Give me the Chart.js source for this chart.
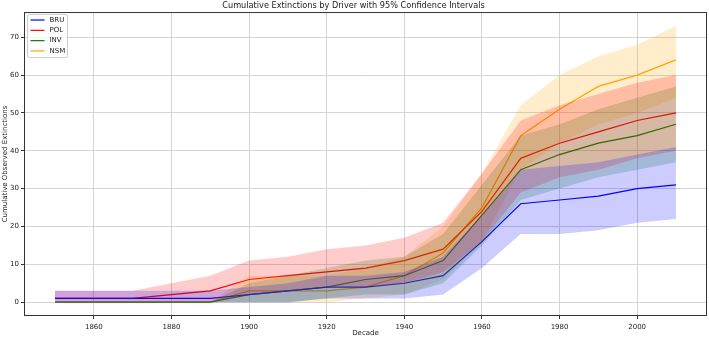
<!DOCTYPE html>
<html>
<head>
<meta charset="utf-8">
<script src="https://cdn.jsdelivr.net/npm/chart.js@4"></script>
<style>
  html, body { margin: 0; padding: 0; background: #fff; }
  canvas { display: block; }
</style>
</head>
<body>
<canvas id="chart" width="709" height="337"></canvas>
<script>
// decades and tick labels
const decades = [1850, 1860, 1870, 1880, 1890, 1900, 1910, 1920, 1930, 1940, 1950, 1960, 1970, 1980, 1990, 2000, 2010];
const xTicks = [1860, 1880, 1900, 1920, 1940, 1960, 1980, 2000];
const yTicks = [0, 10, 20, 30, 40, 50, 60, 70];

// cumulative extinctions per driver, with 95% CI bounds
const bru = [1, 1, 1, 1, 1, 2, 3, 4, 4, 5, 7, 16, 26, 27, 28, 30, 31];
const bruLow = [0, 0, 0, 0, 0, 0, 0, 1, 1, 1, 2, 9, 18, 18, 19, 21, 22];
const bruHigh = [3, 3, 3, 3, 3, 4, 5, 7, 7, 8, 12, 23, 35, 36, 37, 39, 41];

const pol = [1, 1, 1, 2, 3, 6, 7, 8, 9, 11, 14, 24, 38, 42, 45, 48, 50];
const polLow = [0, 0, 0, 0, 0, 2, 3, 4, 4, 5, 8, 16, 29, 33, 35, 38, 40];
const polHigh = [3, 3, 3, 5, 7, 11, 12, 14, 15, 17, 21, 34, 48, 52, 55, 58, 60];

const inv = [0, 0, 0, 0, 0, 2, 3, 4, 6, 7, 11, 23, 35, 39, 42, 44, 47];
const invLow = [0, 0, 0, 0, 0, 0, 0, 1, 2, 2, 5, 15, 27, 30, 33, 35, 37];
const invHigh = [0, 0, 0, 0, 0, 5, 7, 9, 11, 12, 18, 31, 44, 47, 51, 54, 57];

const nsm = [0, 0, 0, 0, 0, 3, 3, 3, 4, 7, 13, 25, 44, 51, 57, 60, 64];
const nsmLow = [0, 0, 0, 0, 0, 0, 0, 0, 1, 2, 6, 16, 35, 42, 47, 50, 54];
const nsmHigh = [0, 0, 0, 0, 0, 7, 7, 7, 9, 12, 20, 34, 52, 60, 65, 68, 73];

const drivers = ["BRU", "POL", "INV", "NSM"];
const lineColors = ["#0000ff", "#ff0000", "#008000", "#ffa500"];
const bandColors = ["rgba(0,0,255,0.2)", "rgba(255,0,0,0.2)", "rgba(0,128,0,0.2)", "rgba(255,165,0,0.2)"];
const series = [bru, pol, inv, nsm];
const lows = [bruLow, polLow, invLow, nsmLow];
const highs = [bruHigh, polHigh, invHigh, nsmHigh];

const pts = (arr) => arr.map((v, i) => ({ x: decades[i], y: v }));
const font = "'DejaVu Sans', sans-serif";

const datasets = [];
drivers.forEach((name, i) => {
  const lowIndex = datasets.length;
  datasets.push({
    label: name + " low",
    data: pts(lows[i]),
    borderWidth: 0,
    pointRadius: 0,
    fill: false,
  });
  datasets.push({
    label: name + " high",
    data: pts(highs[i]),
    borderWidth: 0,
    pointRadius: 0,
    backgroundColor: bandColors[i],
    fill: lowIndex,
  });
});
drivers.forEach((name, i) => {
  datasets.push({
    label: name,
    data: pts(series[i]),
    borderColor: lineColors[i],
    borderWidth: 1.2,
    pointRadius: 0,
    fill: false,
    tension: 0,
  });
});

// axes box and the legend inside the plot, like matplotlib
const frame = {
  id: "frame",
  afterDraw(chart) {
    const { ctx, chartArea: a } = chart;
    ctx.save();
    ctx.strokeStyle = "#333";
    ctx.lineWidth = 1;
    ctx.strokeRect(a.left + 0.5, a.top + 0.5, a.right - a.left - 1, a.bottom - a.top - 1);

    const bx = a.left + 3.5, by = a.top + 2.5, bw = 40, bh = 43;
    ctx.fillStyle = "rgba(255,255,255,0.8)";
    ctx.strokeStyle = "#cccccc";
    ctx.beginPath();
    ctx.roundRect(bx, by, bw, bh, 2);
    ctx.fill();
    ctx.stroke();

    ctx.font = "7px " + font;
    ctx.textBaseline = "middle";
    ctx.textAlign = "left";
    drivers.forEach((name, i) => {
      const y = by + 5.5 + i * 10.3;
      ctx.strokeStyle = lineColors[i];
      ctx.lineWidth = 1.2;
      ctx.beginPath();
      ctx.moveTo(bx + 3, y);
      ctx.lineTo(bx + 17, y);
      ctx.stroke();
      ctx.fillStyle = "#222";
      ctx.fillText(name, bx + 22, y);
    });
    ctx.restore();
  },
};

new Chart(document.getElementById("chart").getContext("2d"), {
  type: "line",
  data: { datasets },
  plugins: [frame],
  options: {
    responsive: false,
    animation: false,
    devicePixelRatio: 1,
    layout: { padding: { left: 0, right: 2, top: 0, bottom: 0 } },
    plugins: {
      legend: { display: false },
      tooltip: { enabled: false },
      title: {
        display: true,
        text: "Cumulative Extinctions by Driver with 95% Confidence Intervals",
        color: "#222",
        font: { family: font, size: 8.2, weight: "normal" },
        padding: { top: 1, bottom: 1.2 },
      },
    },
    scales: {
      x: {
        type: "linear",
        min: 1842,
        max: 2018,
        afterBuildTicks: (s) => { s.ticks = xTicks.map((v) => ({ value: v })); },
        afterFit: (s) => { s.height = 21; },
        ticks: { color: "#222", font: { family: font, size: 7 }, padding: 4, maxRotation: 0, callback: (v) => String(v) },
        grid: { color: "#d4d4d4", tickColor: "#333", tickLength: 3 },
        border: { display: false },
        title: { display: true, text: "Decade", color: "#222", font: { family: font, size: 7 }, padding: { top: 0, bottom: 0 } },
      },
      y: {
        type: "linear",
        min: -3.65,
        max: 76.65,
        afterBuildTicks: (s) => { s.ticks = yTicks.map((v) => ({ value: v })); },
        afterFit: (s) => { s.width = 24; },
        ticks: { color: "#222", font: { family: font, size: 7 }, padding: 2 },
        grid: { color: "#d4d4d4", tickColor: "#333", tickLength: 3 },
        border: { display: false },
        title: { display: true, text: "Cumulative Observed Extinctions", color: "#222", font: { family: font, size: 7 }, padding: { top: 1, bottom: 0 } },
      },
    },
  },
});
</script>
</body>
</html>
